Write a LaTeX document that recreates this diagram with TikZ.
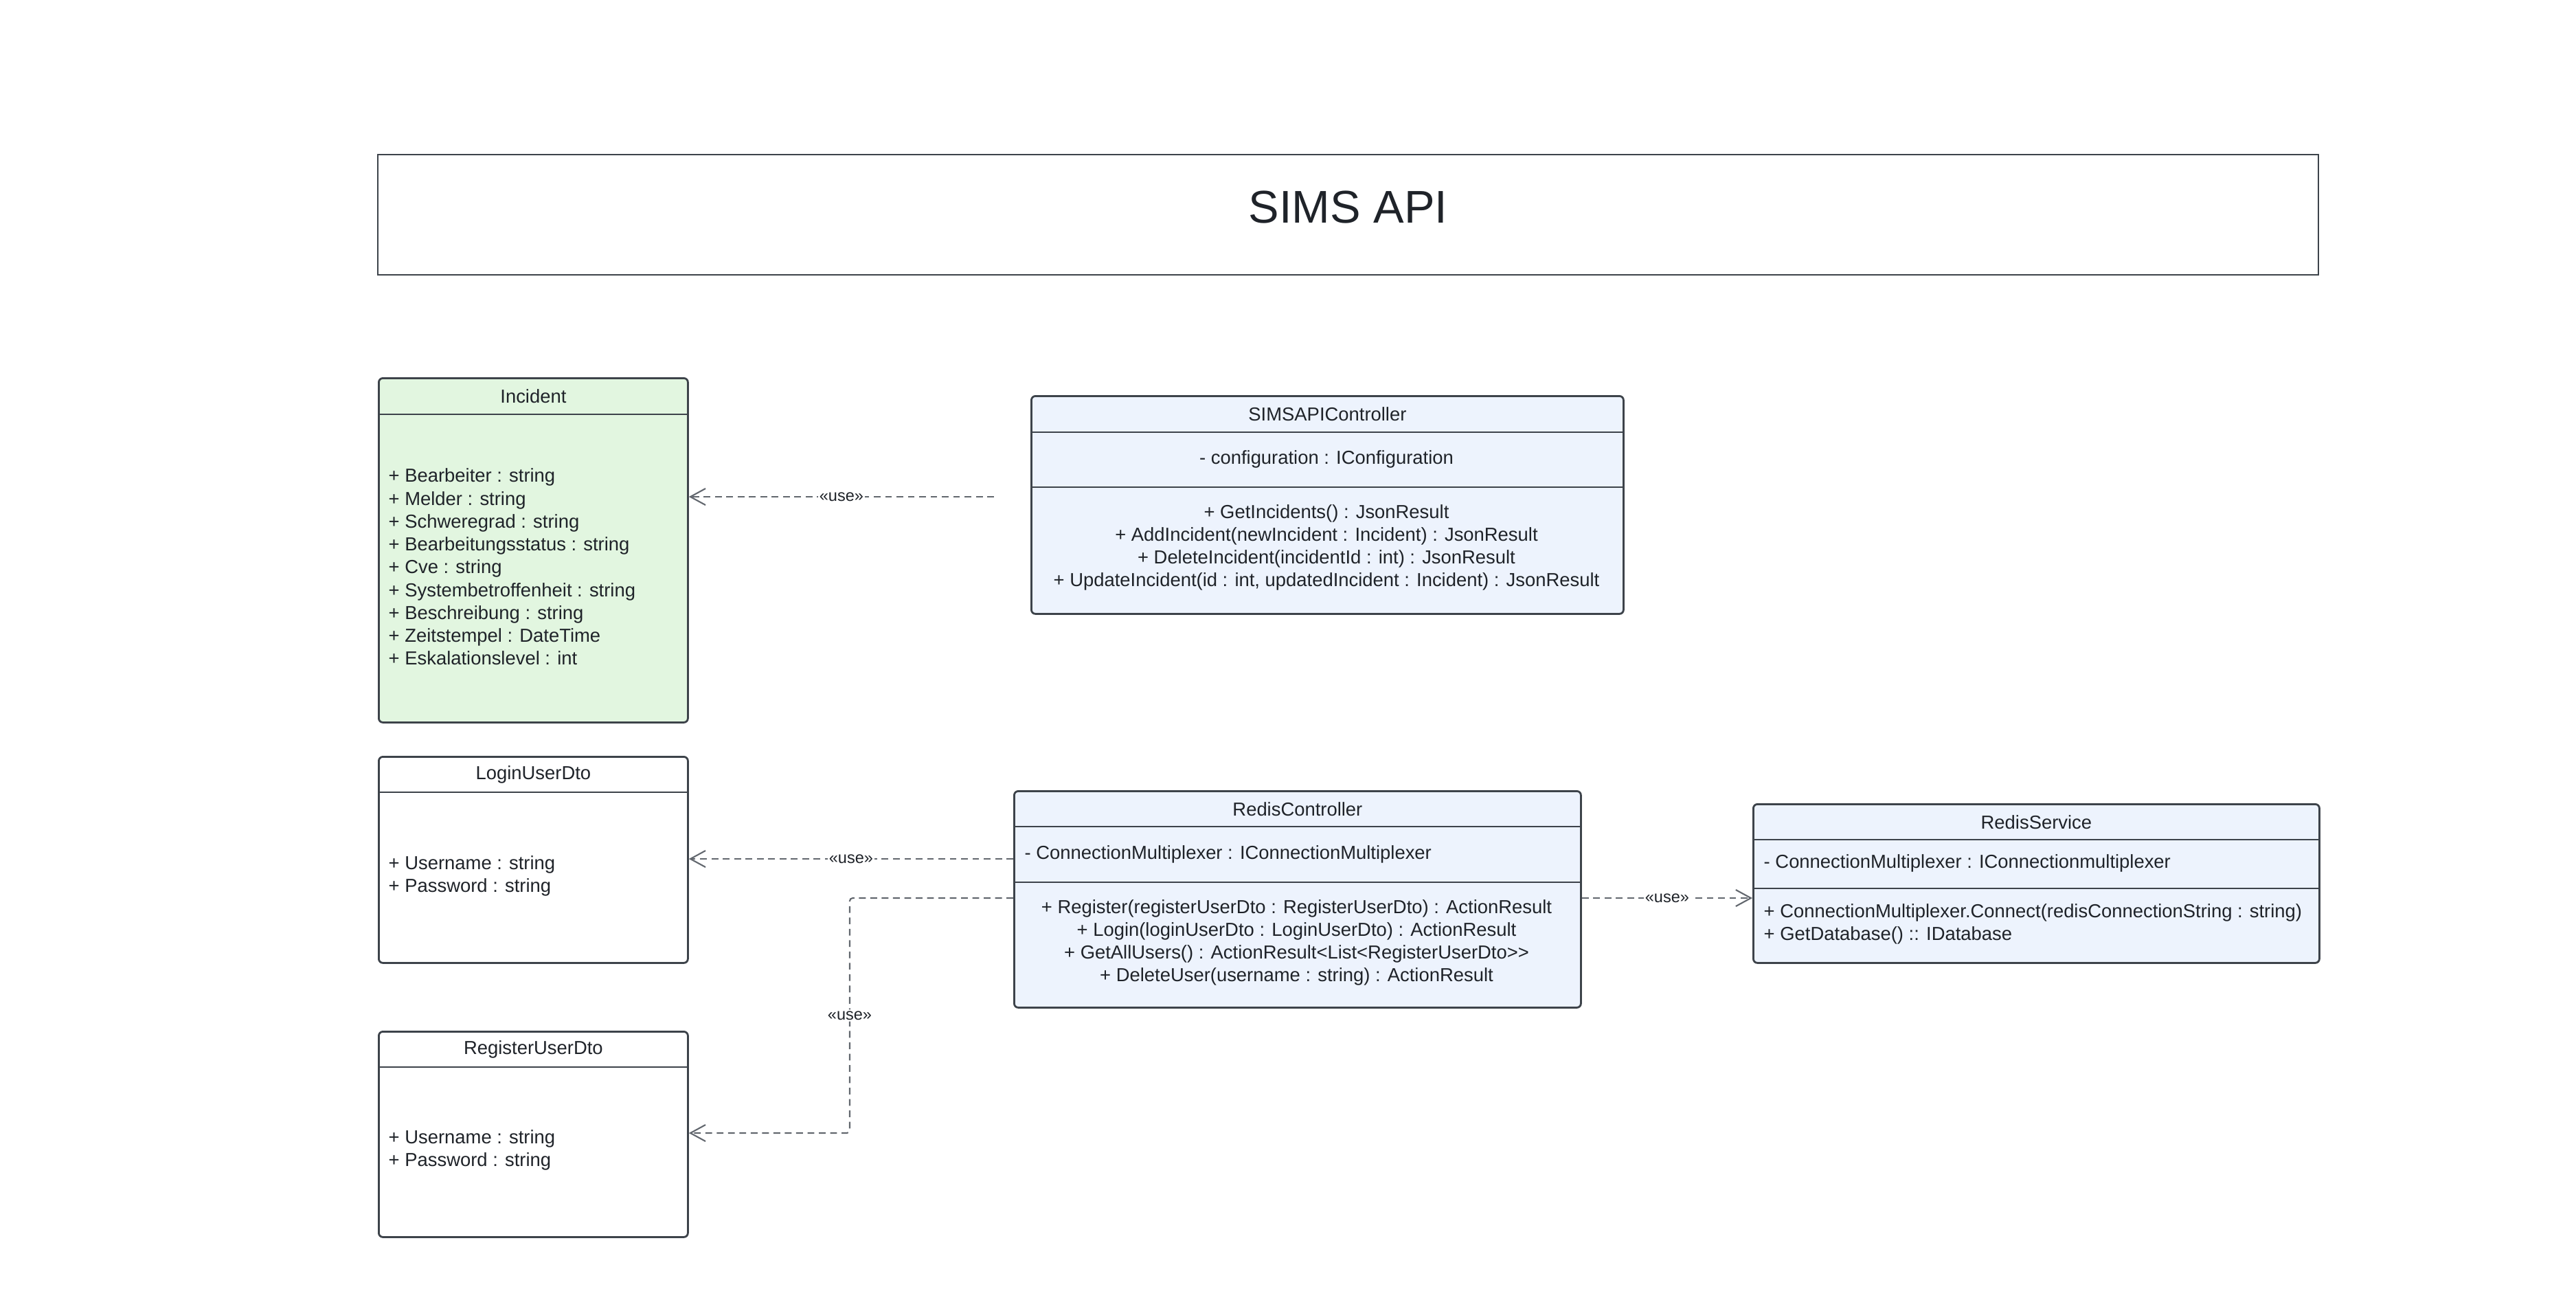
\documentclass[tikz,border=0pt]{standalone}
\usepackage{fontspec}
\setmainfont{Liberation Sans}
\usetikzlibrary{positioning,arrows.meta}
\definecolor{boxline}{HTML}{3D434A}
\definecolor{depline}{HTML}{62676E}
\definecolor{txt}{HTML}{1F2329}
\definecolor{entgreen}{HTML}{E2F6E0}
\definecolor{ctlblue}{HTML}{EDF3FD}
\tikzset{
  classbox/.style={draw=boxline, line width=0.8pt, rounded corners=1.7pt, inner sep=0pt, anchor=north west},
  divider/.style={draw=boxline, line width=0.8pt},
  hdr/.style={inner sep=0pt, minimum height=0.53cm, text=txt, font=\fontsize{7.8}{9.45}\selectfont},
  body/.style={inner sep=0pt, text=txt, font=\fontsize{7.8}{9.45}\selectfont},
  dep/.style={draw=depline, line width=0.6pt, dash pattern=on 2.8pt off 1.9pt,
    -{Straight Barb[length=2.2mm,width=2.4mm]}},
  uselbl/.style={fill=white, inner sep=0.6pt, text=txt, font=\fontsize{6.7}{6.7}\selectfont},
}
\begin{document}
\begin{tikzpicture}
  \useasboundingbox (0,0) rectangle (37.5,-18.75);
  % title
  \node[draw=boxline, line width=0.8pt, minimum width=28.25cm, minimum height=1.75cm] (title) at (19.625,-3.125) {};
  \node[text=txt, font=\fontsize{19}{22}\selectfont] (title-text) at (19.625,-3.01) {SIMS API};
  % class boxes
  \node[classbox, fill=entgreen, minimum width=4.5cm, minimum height=5.01cm] (incident) at (5.5,-5.49) {};
  \node[classbox, fill=ctlblue, minimum width=8.62cm, minimum height=3.17cm] (simsctrl) at (15,-5.75) {};
  \node[classbox, fill=white, minimum width=4.5cm, minimum height=3cm] (login) at (5.5,-11) {};
  \node[classbox, fill=white, minimum width=4.5cm, minimum height=2.99cm] (register) at (5.5,-15) {};
  \node[classbox, fill=ctlblue, minimum width=8.25cm, minimum height=3.15cm] (redisctrl) at (14.75,-11.5) {};
  \node[classbox, fill=ctlblue, minimum width=8.24cm, minimum height=2.31cm] (redissvc) at (25.51,-11.69) {};
  \foreach \n/\d in {incident/0.54, simsctrl/0.54, simsctrl/1.34, login/0.53, register/0.53,
                     redisctrl/0.53, redisctrl/1.34, redissvc/0.53, redissvc/1.24}
    \draw[divider] ([yshift=-\d cm]\n.north west) -- ([yshift=-\d cm]\n.north east);
  % class names
  \node[hdr, below=0pt of incident.north] (incident-name) {Incident};
  \node[hdr, below=0pt of simsctrl.north] (simsctrl-name) {SIMSAPIController};
  \node[hdr, below=0pt of login.north] (login-name) {LoginUserDto};
  \node[hdr, below=0pt of register.north] (register-name) {RegisterUserDto};
  \node[hdr, below=0pt of redisctrl.north] (redisctrl-name) {RedisController};
  \node[hdr, below=0pt of redissvc.north] (redissvc-name) {RedisService};
  % members
  \node[body, anchor=west, align=left] (incident-attr) at (5.65,-8.25) {+ Bearbeiter : string\\+ Melder : string\\+ Schweregrad : string\\+ Bearbeitungsstatus : string\\+ Cve : string\\+ Systembetroffenheit : string\\+ Beschreibung : string\\+ Zeitstempel : DateTime\\+ Eskalationslevel : int};
  \node[body] (simsctrl-attr) at (19.31,-6.68) {- configuration : IConfiguration};
  \node[body, align=center] (simsctrl-ops) at (19.31,-7.97) {+ GetIncidents() : JsonResult\\+ AddIncident(newIncident : Incident) : JsonResult\\+ DeleteIncident(incidentId : int) : JsonResult\\+ UpdateIncident(id : int, updatedIncident : Incident) : JsonResult};
  \node[body, anchor=west, align=left] (login-attr) at (5.65,-12.75) {+ Username : string\\+ Password : string};
  \node[body, anchor=west, align=left] (register-attr) at (5.65,-16.74) {+ Username : string\\+ Password : string};
  \node[body, anchor=west] (redisctrl-attr) at (14.91,-12.43) {- ConnectionMultiplexer : IConnectionMultiplexer};
  \node[body, align=center] (redisctrl-ops) at (18.875,-13.72) {+ Register(registerUserDto : RegisterUserDto) : ActionResult\\+ Login(loginUserDto : LoginUserDto) : ActionResult\\+ GetAllUsers() : ActionResult<List<RegisterUserDto>{}>\\+ DeleteUser(username : string) : ActionResult};
  \node[body, anchor=west] (redissvc-attr) at (25.67,-12.56) {- ConnectionMultiplexer : IConnectionmultiplexer};
  \node[body, anchor=west, align=left] (redissvc-ops) at (25.67,-13.45) {+ ConnectionMultiplexer.Connect(redisConnectionString : string)\\+ GetDatabase() :: IDatabase};
  % dependencies
  \coordinate (simsctrl-src) at (14.47,-7.23);
  \draw[dep] (simsctrl-src) -- node[uselbl] (use-incident) {«use»} (incident.east |- simsctrl-src);
  \draw[dep] (redisctrl.west |- 0,-12.5) -- node[uselbl] (use-login) {«use»} (login.east |- 0,-12.5);
  \draw[dep, rounded corners=1.2pt] (redisctrl.west |- 0,-13.07) -| node[uselbl, pos=0.75] (use-register) {«use»} (12.37,-16.49) -- (register.east |- 0,-16.49);
  \draw[dep] (redisctrl.east |- 0,-13.07) -- node[uselbl] (use-redissvc) {«use»} (redissvc.west |- 0,-13.07);
\end{tikzpicture}
\end{document}
